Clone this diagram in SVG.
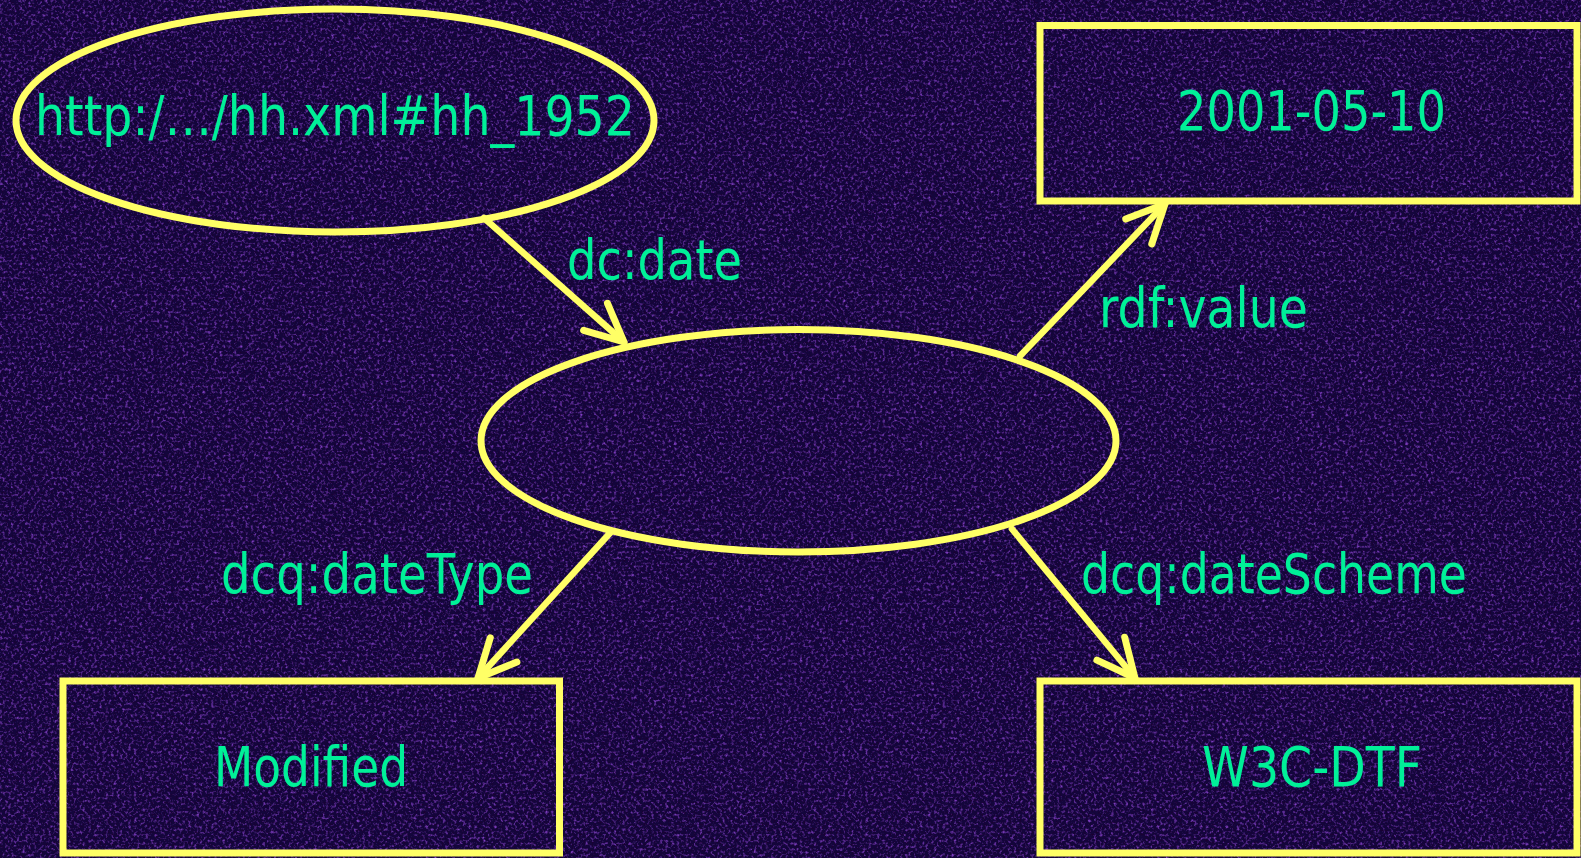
<svg xmlns="http://www.w3.org/2000/svg" width="1581" height="858" viewBox="0 0 1581 858">
  <style>
    .shape { fill: none; stroke: #ffff66; stroke-width: 7; }
    .edge { fill: none; stroke: #ffff66; stroke-width: 6.5; stroke-linecap: round; }
    .lbl { fill: #00f098; font-family: "DejaVu Sans Condensed", "DejaVu Sans", sans-serif; font-size: 55px; }
  </style>
  <defs>
    <filter id="noise" x="0" y="0" width="100%" height="100%" filterUnits="userSpaceOnUse">
      <feTurbulence type="fractalNoise" baseFrequency="0.35" numOctaves="2" seed="7" result="t"/>
      <feColorMatrix in="t" type="matrix" values="0 0 0 0 0.22  0 0 0 0 0.05  0 0 0 0 0.55  2.6 0 0 0 -1.3"/>
    </filter>
    <filter id="dark" x="0" y="0" width="100%" height="100%" filterUnits="userSpaceOnUse">
      <feTurbulence type="fractalNoise" baseFrequency="0.5" numOctaves="1" seed="21" result="t"/>
      <feColorMatrix in="t" type="matrix" values="0 0 0 0 0.01  0 0 0 0 0  0 0 0 0 0.03  -3 0 0 0 1.6"/>
    </filter>
    <marker id="arrow" markerUnits="userSpaceOnUse" viewBox="-46 -24 50 48" refX="0" refY="0" markerWidth="50" markerHeight="48" orient="auto" overflow="visible">
      <path d="M-38,-18 L0,0 L-38,18" fill="none" stroke="#ffff66" stroke-width="7" stroke-linecap="round" stroke-linejoin="round"/>
    </marker>
  </defs>

  <g id="background">
    <rect x="0" y="0" width="1581" height="858" fill="#13063c"/>
    <rect x="0" y="0" width="1581" height="858" filter="url(#dark)"/>
    <rect x="0" y="0" width="1581" height="858" filter="url(#noise)"/>
  </g>

  <g id="connectors">
    <line class="edge" x1="484" y1="218" x2="624" y2="342" marker-end="url(#arrow)"/>
    <line class="edge" x1="1020" y1="356" x2="1165" y2="204" marker-end="url(#arrow)"/>
    <line class="edge" x1="610" y1="533" x2="478" y2="678" marker-end="url(#arrow)"/>
    <line class="edge" x1="1012" y1="529" x2="1135" y2="678" marker-end="url(#arrow)"/>
  </g>

  <g id="node-resource">
    <ellipse class="shape" cx="335" cy="120.5" rx="319" ry="111.5"/>
    <text class="lbl" x="335" y="135" text-anchor="middle" textLength="600" lengthAdjust="spacingAndGlyphs">http:/…/hh.xml#hh_1952</text>
  </g>

  <g id="node-blank">
    <ellipse class="shape" cx="798.5" cy="440.75" rx="317.5" ry="111.25"/>
  </g>

  <g id="node-value">
    <rect class="shape" x="1040" y="25.5" width="537" height="175.5"/>
    <text class="lbl" x="1311.5" y="129.5" text-anchor="middle" textLength="269" lengthAdjust="spacingAndGlyphs">2001-05-10</text>
  </g>

  <g id="node-modified">
    <rect class="shape" x="63" y="681" width="496.5" height="172"/>
    <text class="lbl" x="311" y="786" text-anchor="middle" textLength="194" lengthAdjust="spacingAndGlyphs">Modified</text>
  </g>

  <g id="node-w3cdtf">
    <rect class="shape" x="1040" y="681" width="537" height="172"/>
    <text class="lbl" x="1312" y="786" text-anchor="middle" textLength="220" lengthAdjust="spacingAndGlyphs">W3C-DTF</text>
  </g>

  <g id="edge-labels">
    <text class="lbl" x="567" y="279" textLength="175" lengthAdjust="spacingAndGlyphs">dc:date</text>
    <text class="lbl" x="1099" y="327" textLength="209" lengthAdjust="spacingAndGlyphs">rdf:value</text>
    <text class="lbl" x="221" y="592.5" textLength="312" lengthAdjust="spacingAndGlyphs">dcq:dateType</text>
    <text class="lbl" x="1081" y="592.5" textLength="386" lengthAdjust="spacingAndGlyphs">dcq:dateScheme</text>
  </g>
</svg>
